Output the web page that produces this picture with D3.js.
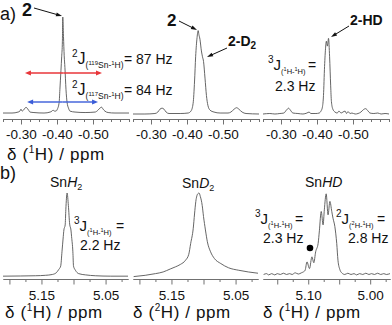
<!DOCTYPE html>
<html><head><meta charset="utf-8">
<script src="https://cdn.jsdelivr.net/npm/d3@7"></script>
<style>
html,body{margin:0;padding:0;background:#fff;}
svg{display:block;font-family:"Liberation Sans",Arial,Helvetica,sans-serif;}
</style></head><body>
<svg id="c" width="392" height="325"></svg>
<script>
// ---------- DATA (ppm, relative intensity %) ----------
const specA1 = [[-0.250,1],[-0.275,1],[-0.292,2],[-0.297,3],[-0.300,5],[-0.303,3],[-0.307,4],[-0.311,6],[-0.314,7],[-0.317,6],[-0.321,4],[-0.325,2],[-0.336,1.5],[-0.364,1],[-0.381,2],[-0.386,3],[-0.389,4],[-0.393,3],[-0.397,3],[-0.401,5],[-0.406,12],[-0.408,25],[-0.411,45],[-0.413,59],[-0.415,75],[-0.416,100],[-0.418,80],[-0.420,60],[-0.422,48],[-0.425,25],[-0.428,12],[-0.432,6],[-0.436,3],[-0.450,2],[-0.478,1.5],[-0.506,2],[-0.514,4],[-0.519,6],[-0.524,7],[-0.528,5],[-0.533,3],[-0.542,1.5],[-0.561,1],[-0.600,1]];
const specA2 = [[-0.250,0],[-0.283,0],[-0.311,0.5],[-0.319,2],[-0.325,5],[-0.331,6],[-0.336,5],[-0.342,2],[-0.350,0.5],[-0.381,0.5],[-0.403,1],[-0.411,3],[-0.417,11],[-0.421,34],[-0.424,59],[-0.428,79],[-0.431,86],[-0.433,82],[-0.436,77],[-0.440,65],[-0.443,59],[-0.446,54],[-0.450,37],[-0.454,19],[-0.458,9],[-0.464,4],[-0.475,2],[-0.492,1],[-0.514,1],[-0.522,2],[-0.531,5],[-0.538,6.5],[-0.544,5],[-0.553,2],[-0.564,0.5],[-0.600,0]];
const specA3 = [[-0.250,0],[-0.269,0.5],[-0.283,0],[-0.297,0.5],[-0.308,1],[-0.315,4],[-0.321,6],[-0.326,4],[-0.333,1],[-0.347,0.5],[-0.361,0],[-0.372,1],[-0.378,2],[-0.383,0.5],[-0.397,0.5],[-0.406,1],[-0.411,3],[-0.415,7],[-0.418,19],[-0.421,49],[-0.424,69],[-0.426,75],[-0.429,70],[-0.432,78],[-0.435,59],[-0.438,29],[-0.440,13],[-0.444,5],[-0.450,2],[-0.456,1],[-0.461,3],[-0.467,1],[-0.472,2],[-0.478,3],[-0.482,0.5],[-0.486,2.5],[-0.492,0.5],[-0.497,1],[-0.506,0],[-0.514,0.5],[-0.522,2],[-0.529,4.5],[-0.535,5.5],[-0.542,3],[-0.547,1],[-0.558,0.5],[-0.569,1],[-0.578,0],[-0.589,0.5],[-0.600,0]];
const specB1 = [[5.210,1],[5.183,1.2],[5.159,1.5],[5.144,2],[5.133,3],[5.127,5],[5.123,9],[5.120,13],[5.118,30],[5.116,48],[5.115,56],[5.113,62],[5.112,80],[5.110,100],[5.108,85],[5.106,63],[5.104,56],[5.103,48],[5.101,30],[5.100,13],[5.097,8],[5.092,4],[5.081,2.5],[5.066,1.5],[5.042,1],[5.015,1]];
const specB2 = [[5.209,0.5],[5.191,2],[5.175,4],[5.163,6],[5.152,9.5],[5.144,12],[5.136,15],[5.128,20],[5.123,27],[5.120,40],[5.116,58],[5.114,75],[5.112,90],[5.109,99],[5.107,100],[5.105,96],[5.102,85],[5.100,72],[5.097,56],[5.094,42],[5.089,30],[5.083,22],[5.073,16],[5.061,11],[5.045,8],[5.030,6],[5.015,4.5]];
const specB3 = [[5.172,3],[5.167,4],[5.164,2.5],[5.159,4],[5.154,2.5],[5.150,4],[5.145,3],[5.140,4.5],[5.135,3],[5.130,4],[5.126,3],[5.121,5],[5.116,3.5],[5.111,5],[5.108,6],[5.105,8],[5.102,18],[5.098,10],[5.094,24],[5.091,17],[5.088,30],[5.084,40],[5.082,55],[5.079,78],[5.076,62],[5.074,80],[5.071,99],[5.068,74],[5.065,90],[5.062,78],[5.060,70],[5.057,60],[5.054,40],[5.052,20],[5.049,9],[5.046,5],[5.041,3],[5.036,4.5],[5.031,3],[5.026,4],[5.022,2.5],[5.017,4],[5.012,3],[5.007,4.5],[5.002,3],[4.998,4],[4.993,3],[4.988,4.5],[4.983,3],[4.978,4],[4.974,3],[4.968,4]];

const aMajor = [-0.30,-0.40,-0.50];
const aMajorLabels = ["-0.30","-0.40","-0.50"];
const aMinor = [-0.25,-0.275,-0.325,-0.35,-0.375,-0.425,-0.45,-0.475,-0.525,-0.55,-0.575,-0.60];
const bMajor = [5.20,5.15,5.10,5.05];
const bMajorLabels = ["","5.15","","5.05"];
const bMinor = [5.175,5.125,5.075,5.025];
const b3Major = [5.15,5.10,5.05,5.00];
const b3MajorLabels = ["","5.10","","5.00"];
const b3Minor = [5.125,5.075,5.025,4.975];
// J-coupling arrows (satellite positions, ppm)
const jArrows = [[-0.311,-0.525],[-0.317,-0.514]];
const jColors = ["#e8363a","#3a5cd8"];

// ---------- DRAW ----------
const svg = d3.select("#c");
const FONT = '"Liberation Sans",Arial,Helvetica,sans-serif';
const xa = [d3.scaleLinear().domain([-0.25,-0.60]).range([3,129]),
            d3.scaleLinear().domain([-0.25,-0.60]).range([133,259]),
            d3.scaleLinear().domain([-0.25,-0.60]).range([263,389])];
const ya = d3.scaleLinear().domain([0,100]).range([114,17]);
const xb = [d3.scaleLinear().domain([5.21,5.015]).range([3,128]),
            d3.scaleLinear().domain([5.21,5.015]).range([133,258]),
            d3.scaleLinear().domain([5.173,4.968]).range([263,390])];
const yb = d3.scaleLinear().domain([0,100]).range([277,193]);

function axis(scale, y, major, labels, minor, pad) {
  const g = svg.append("g").attr("transform", `translate(0,${y})`);
  g.append("g").call(d3.axisBottom(scale).tickValues(minor).tickSize(3).tickSizeOuter(0).tickFormat(""));
  g.append("g").call(d3.axisBottom(scale).tickValues(major).tickSize(5.5).tickSizeOuter(0).tickPadding(pad).tickFormat((d,i)=>labels[i]));
  g.selectAll("path.domain").attr("stroke","#707070").attr("stroke-width",1);
  g.selectAll(".tick line").attr("stroke","#707070").attr("stroke-width",1);
  g.selectAll("text").attr("font-size",13.5).attr("fill","#111").attr("font-family",FONT);
}
function spec(data, xs, ys) {
  svg.append("path").datum(data)
    .attr("d", d3.line().x(d=>xs(d[0])).y(d=>ys(d[1])).curve(d3.curveMonotoneX))
    .attr("fill","none").attr("stroke","#555").attr("stroke-width",0.9);
}
function rich(x, y, parts, extra) {
  const t = svg.append("text").attr("x",x).attr("y",y).attr("fill","#111").attr("font-family",FONT);
  if (extra) extra(t);
  parts.forEach(p => {
    const s = t.append("tspan").text(p.t).attr("font-size",p.fs);
    if (p.dy) s.attr("dy",p.dy);
    if (p.x !== undefined) s.attr("x",p.x);
    if (p.fw) s.attr("font-weight",p.fw);
    if (p.fi) s.attr("font-style","italic");
  });
  return t;
}
function arrow(x1,y1,x2,y2,color,w,hl,hw) {
  const dx=x2-x1, dy=y2-y1, L=Math.hypot(dx,dy), ux=dx/L, uy=dy/L;
  const bx=x2-ux*hl, by=y2-uy*hl;
  svg.append("line").attr("x1",x1).attr("y1",y1).attr("x2",bx+ux*0.5).attr("y2",by+uy*0.5)
    .attr("stroke",color).attr("stroke-width",w);
  svg.append("polygon").attr("points",
    `${x2},${y2} ${bx-uy*hw/2},${by+ux*hw/2} ${bx+uy*hw/2},${by-ux*hw/2}`).attr("fill",color);
}
// coupling-constant label: sup, J, (sub) and "="
function jLabel(x, y, sup, a, b, eqX) {
  return rich(x, y, [{t:sup,fs:10,dy:-7},{t:"J",fs:15,dy:7},{t:"(",fs:7.5,dy:4},{t:a,fs:5.5,dy:-3},
    {t:"H-",fs:7.5,dy:3},{t:b,fs:5.5,dy:-3},{t:"H)",fs:7.5,dy:3},{t:"=",fs:14,dy:-4,x:eqX}]);
}

// Axes
xa.forEach((s,i)=>axis(s,119,aMajor,aMajorLabels,aMinor,5.4));
axis(xb[0],279,bMajor,bMajorLabels,bMinor,6.4);
axis(xb[1],279,bMajor,bMajorLabels,bMinor,6.4);
axis(xb[2],279,b3Major,b3MajorLabels,b3Minor,6.4);

// Spectra
spec(specA1,xa[0],ya); spec(specA2,xa[1],ya); spec(specA3,xa[2],ya);
spec(specB1,xb[0],yb); spec(specB2,xb[1],yb); spec(specB3,xb[2],yb);

// J arrows (double headed)
jArrows.forEach((a,i)=>{
  const y = i===0 ? 73 : 102;
  const x1 = xa[0](a[0]), x2 = xa[0](a[1]), m=(x1+x2)/2;
  arrow(m,y,x1,y,jColors[i],1.4,6,5);
  arrow(m,y,x2,y,jColors[i],1.4,6,5);
});

// Panel letters
rich(0,20,[{t:"a)",fs:18}]);
rich(0,179,[{t:"b)",fs:18}]);

// a) annotations
rich(22,16,[{t:"2",fs:18,fw:"bold"}]);
arrow(34,8,62,16,"#111",1,6,4);
rich(72,64,[{t:"2",fs:10,dy:-7},{t:"J",fs:16,dy:7},{t:"(",fs:8.5,dy:4},{t:"119",fs:6,dy:-3},{t:"Sn-",fs:8.5,dy:3},{t:"1",fs:6,dy:-3},{t:"H)",fs:8.5,dy:3},{t:"=",fs:14,dy:-4,x:124},{t:"87 Hz",fs:14,x:136}]);
rich(72,95,[{t:"2",fs:10,dy:-7},{t:"J",fs:16,dy:7},{t:"(",fs:8.5,dy:4},{t:"117",fs:6,dy:-3},{t:"Sn-",fs:8.5,dy:3},{t:"1",fs:6,dy:-3},{t:"H)",fs:8.5,dy:3},{t:"=",fs:14,dy:-4,x:124},{t:"84 Hz",fs:14,x:136}]);

rich(167,26,[{t:"2",fs:17,fw:"bold"}]);
arrow(179,21,197,30,"#111",1,6,4);
rich(228,46,[{t:"2-D",fs:14,fw:"bold"},{t:"2",fs:10,fw:"bold",dy:3}]);
arrow(227,48,207,57,"#111",1,6,4);

rich(350,25,[{t:"2-HD",fs:14,fw:"bold"}]);
arrow(349,26,331,37,"#111",1,6,4);
jLabel(268,70,"3","1","1",308);
rich(275,91,[{t:"2.3 Hz",fs:14}]);

// axis title row a
const dTitle = (x,y,n)=>rich(x,y,[{t:"δ (",fs:17},{t:n,fs:10,dy:-7},{t:"H) / ppm",fs:17,dy:7}],t=>t.attr("letter-spacing",0.6));
dTitle(7,160,"1");

// b) annotations
rich(50,187,[{t:"Sn",fs:14},{t:"H",fs:14,fi:true},{t:"2",fs:9,dy:3}]);
jLabel(74,231,"3","1","1",116);
rich(80,250,[{t:"2.2 Hz",fs:14}]);
rich(182,188,[{t:"Sn",fs:14},{t:"D",fs:14,fi:true},{t:"2",fs:9,dy:3}]);
rich(305,187,[{t:"Sn",fs:14},{t:"HD",fs:14,fi:true}]);
jLabel(255,224,"3","1","1",295);
rich(263,243,[{t:"2.3 Hz",fs:14}]);
jLabel(336,224,"2","2","1",377);
rich(348,243,[{t:"2.8 Hz",fs:14}]);
svg.append("circle").attr("cx",310).attr("cy",248).attr("r",3.3).attr("fill","#000");

dTitle(5,318,"1");
dTitle(133,318,"2");
dTitle(263,318,"1");
</script></body></html>
